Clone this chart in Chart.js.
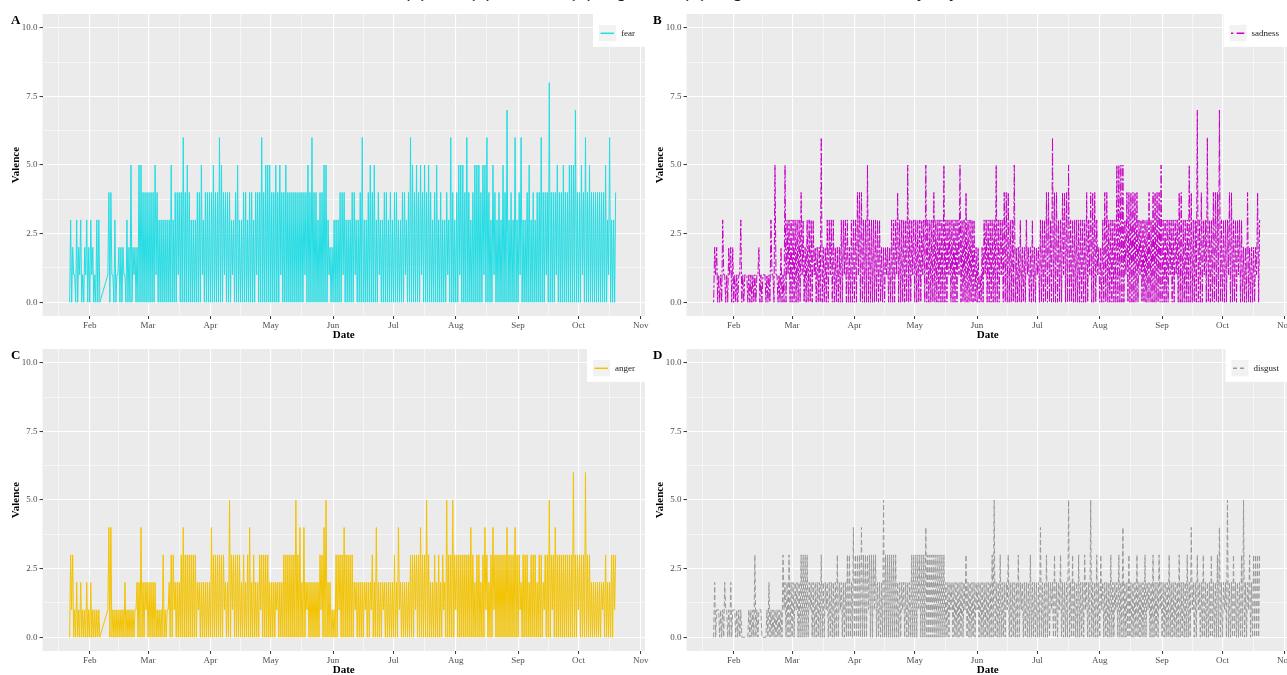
<!DOCTYPE html>
<html>
<head>
<meta charset="utf-8">
<script src="https://cdn.jsdelivr.net/npm/chart.js@4.4.1/dist/chart.umd.min.js"></script>
<style>
    html, body { margin: 0; padding: 0; background: #fff; overflow: hidden; width: 1287px; height: 675px; }
    .panel { position: absolute; }
    .tag { position: absolute; font: bold 13px 'Liberation Serif', serif; line-height: 13px; color: #000; }
    #caption { position: absolute; left: 404px; top: -15.5px; font: 17px 'Liberation Sans', sans-serif; line-height: 16px; white-space: nowrap; color: #222; }
</style>
</head>
<body>
<div id="caption">(A) fear, (B) sadness, (C) anger, and (D) disgust valence over time by day</div>

<canvas id="fearChart" class="panel" width="650" height="345" style="left:0;top:0"></canvas>
<canvas id="sadnessChart" class="panel" width="650" height="345" style="left:644px;top:0"></canvas>
<canvas id="angerChart" class="panel" width="650" height="345" style="left:0;top:335px"></canvas>
<canvas id="disgustChart" class="panel" width="650" height="345" style="left:644px;top:335px"></canvas>

<div class="tag" style="left:11px;top:13px">A</div>
<div class="tag" style="left:653px;top:13px">B</div>
<div class="tag" style="left:11px;top:348px">C</div>
<div class="tag" style="left:653px;top:348px">D</div>

<script>
// Daily valence, 2020. One low and one high reading per day, first day = Jan 22.
const FIRST_DAY = 21; // days after Jan 1

const fearHigh = [
    3,2,1,3,2,3,1,2,3,2,
    3,2,1,3,3,null,null,null,null,4,
    4,1,3,1,2,2,2,1,3,2,
    5,2,2,2,5,5,4,4,4,4,
    4,4,5,4,3,3,3,3,3,3,
    5,3,4,4,4,4,6,4,5,4,
    3,3,3,4,4,5,3,4,4,4,
    4,5,4,4,6,5,4,4,4,4,
    3,3,4,5,3,3,4,4,3,4,
    4,3,4,4,4,6,4,5,5,5,
    4,4,5,4,5,4,4,5,4,4,
    4,4,4,4,4,4,4,4,5,4,
    6,4,4,3,4,4,5,5,3,2,
    2,3,3,3,4,4,4,3,3,3,
    4,4,3,3,4,6,3,3,4,5,
    4,5,3,4,3,3,4,4,3,4,
    3,4,4,3,3,4,4,3,4,6,
    5,4,5,4,5,4,5,4,5,4,
    3,4,5,3,4,3,3,4,3,
    6,4,3,4,5,5,5,4,6,4,
    3,4,5,5,5,4,5,5,6,4,
    3,5,4,3,4,3,5,4,7,3,
    4,3,6,3,4,6,3,3,4,5,
    3,4,3,4,4,6,4,4,4,8,
    4,4,4,5,4,4,5,4,4,5,
    5,5,7,4,4,5,4,6,4,5,
    4,4,4,4,4,4,4,5,3,6,
    3,3,4
];
const fearLow = [
    0,0,1,0,0,1,0,0,1,0,
    0,1,0,0,0,0,null,null,null,1,
    0,1,0,0,1,0,0,1,0,0,
    0,0,1,0,0,0,0,0,0,0,
    0,0,0,1,0,0,0,0,0,0,
    0,0,0,0,1,0,0,0,0,0,
    0,0,0,0,0,0,1,0,0,0,
    0,0,0,0,0,0,0,1,0,0,
    0,1,0,0,0,0,0,0,0,0,
    0,0,0,1,0,0,0,0,0,0,
    0,0,0,0,0,1,0,0,0,0,
    0,0,0,0,0,0,0,1,0,0,
    0,0,0,0,0,0,0,0,0,1,
    0,0,0,0,0,0,1,0,0,0,
    0,0,1,0,0,0,0,0,0,0,
    0,0,0,0,1,0,0,0,0,0,
    0,0,0,0,0,0,0,1,0,0,
    0,0,0,0,0,1,0,0,0,0,
    0,0,0,0,0,0,0,0,1,
    0,0,0,0,0,1,0,0,0,0,
    0,0,0,0,0,0,0,1,0,0,
    0,0,1,0,0,0,0,0,0,0,
    0,0,0,0,0,1,0,0,0,0,
    0,0,0,0,0,0,0,0,1,0,
    0,0,0,1,0,0,0,0,0,0,
    0,0,0,0,0,0,1,0,0,0,
    0,0,0,0,0,0,0,0,0,1,
    0,0,0
];

const sadnessHigh = [
    2,2,1,1,3,1,1,2,2,2,
    1,1,1,3,1,1,1,1,1,1,
    1,1,2,1,1,1,1,1,3,1,
    5,1,1,2,1,5,3,3,3,3,
    3,3,3,4,3,2,3,3,3,3,
    2,2,2,6,2,2,3,3,3,3,
    2,2,2,3,3,3,3,2,3,3,
    3,4,4,4,3,3,5,3,3,3,
    3,3,3,2,2,2,2,2,3,3,
    3,4,3,3,3,3,5,3,3,3,
    3,3,3,3,3,5,3,3,3,4,
    3,3,3,3,5,3,3,3,3,3,
    3,3,5,3,3,4,3,3,3,3,
    2,2,1,2,3,3,3,3,3,3,
    5,3,3,3,4,4,4,3,3,5,
    2,2,3,2,2,3,2,2,3,2,
    2,2,3,3,3,4,4,3,6,4,
    4,3,3,4,4,4,5,3,3,3,
    3,3,3,3,3,4,3,4,4,
    4,3,2,2,3,4,4,3,3,3,
    3,5,5,5,5,3,4,4,4,4,
    4,4,3,3,3,3,3,4,3,4,
    4,4,4,5,3,3,3,3,3,3,
    3,3,4,4,3,3,3,5,4,3,
    3,7,3,4,3,3,6,3,3,4,
    4,4,7,3,3,3,3,4,4,3,
    3,3,3,3,2,2,4,2,2,2,
    2,4,3
];
const sadnessLow = [
    0,1,0,0,0,1,0,0,1,0,
    0,0,0,1,0,0,1,0,0,0,
    0,0,1,0,0,1,0,0,0,1,
    0,1,0,0,0,0,0,1,0,0,
    0,0,0,0,1,0,0,0,0,0,
    1,0,0,0,0,0,0,0,1,0,
    0,0,0,0,0,1,0,0,0,0,
    0,0,1,0,0,0,0,0,0,0,
    0,0,0,0,0,0,1,0,0,0,
    0,1,0,0,0,0,0,0,0,1,
    0,0,0,0,1,0,0,0,0,0,
    0,0,0,0,0,0,0,1,0,0,
    0,0,1,0,0,0,0,0,0,0,
    0,0,0,0,0,1,0,0,0,0,
    0,0,0,1,0,0,0,0,0,0,
    0,0,0,0,0,0,1,0,0,0,
    0,1,0,0,0,0,0,0,0,0,
    0,0,0,0,1,0,0,0,0,0,
    0,0,0,0,0,0,0,1,0,
    0,0,1,0,0,0,0,0,0,0,
    0,0,0,0,0,0,1,0,0,0,
    0,0,0,1,0,0,0,0,0,0,
    0,0,0,0,0,0,0,0,1,0,
    0,1,0,0,0,0,0,0,0,0,
    0,0,0,0,0,1,0,0,0,0,
    0,0,0,0,0,0,0,1,0,0,
    0,0,1,0,0,0,0,0,0,0,
    0,1,0
];

const angerHigh = [
    3,3,1,2,1,2,1,1,2,1,
    2,1,1,1,1,null,null,null,null,4,
    4,1,1,1,1,1,1,2,1,1,
    1,1,1,2,2,4,2,2,2,2,
    2,2,2,1,1,1,3,1,1,2,
    3,3,2,2,2,3,4,3,3,3,
    3,3,3,2,2,2,2,2,2,2,
    4,3,3,3,3,3,3,2,2,5,
    3,3,3,3,3,2,3,2,3,4,
    2,3,2,2,3,3,3,3,3,2,
    2,2,2,2,2,2,3,3,3,3,
    3,3,5,3,4,2,4,2,2,2,
    2,2,2,2,3,3,4,5,2,2,
    1,1,3,3,3,3,4,3,3,3,
    3,2,2,2,2,2,2,2,2,2,
    3,2,4,2,2,2,2,2,2,2,
    2,3,2,4,2,2,2,2,2,3,
    3,3,3,3,4,3,3,5,3,2,
    2,3,2,3,2,3,2,5,3,
    3,5,3,3,3,3,3,3,3,3,
    4,3,2,3,3,2,3,4,3,2,
    3,4,3,3,3,3,3,3,4,3,
    3,3,4,3,3,2,3,3,3,2,
    3,3,3,2,3,3,2,3,3,5,
    3,3,4,3,3,3,3,3,3,3,
    3,6,3,3,3,3,3,6,3,3,
    2,2,2,2,2,2,2,3,2,2,
    3,3,3
];
const angerLow = [
    0,1,0,0,0,0,0,0,0,0,
    0,0,0,0,0,0,null,null,null,1,
    0,0,0,0,0,0,0,0,0,0,
    0,0,0,1,0,0,0,0,1,0,
    0,0,0,0,0,0,0,0,0,1,
    0,0,1,0,0,0,0,0,0,0,
    0,0,0,0,1,0,0,0,0,0,
    0,0,0,0,0,0,0,1,0,0,
    0,1,0,0,0,0,0,0,0,0,
    0,0,0,0,0,1,0,0,0,0,
    0,0,0,1,0,0,0,0,0,0,
    0,0,0,0,0,0,0,0,1,0,
    0,0,0,0,0,1,0,0,0,0,
    0,0,0,0,1,0,0,0,0,0,
    0,0,1,0,0,0,0,1,0,0,
    1,0,0,0,0,0,1,0,0,0,
    0,0,0,0,1,0,0,0,0,0,
    0,0,1,0,0,0,0,0,0,0,
    0,0,0,0,0,0,1,0,0,
    0,0,0,1,0,0,0,0,0,0,
    0,0,0,0,0,0,0,0,1,0,
    0,0,1,0,0,0,0,0,0,0,
    0,0,0,0,0,1,0,0,0,0,
    0,0,0,0,0,0,0,1,0,0,
    0,1,0,0,0,0,0,0,0,0,
    0,0,0,0,1,0,0,0,0,0,
    0,0,0,0,0,0,1,0,0,0,
    0,0,1
];

const disgustHigh = [
    2,1,1,1,1,2,1,1,2,1,
    1,1,1,1,0,0,0,1,1,1,
    3,1,1,1,0,0,1,2,1,1,
    1,1,1,1,3,2,2,3,2,2,
    2,2,2,3,3,3,3,2,2,2,
    2,2,2,3,2,2,2,2,2,2,
    2,3,2,2,2,2,3,3,2,4,
    3,3,3,4,3,3,3,3,3,3,
    3,2,2,2,5,3,3,3,3,3,
    3,2,2,2,2,2,2,2,3,3,
    3,3,3,3,3,4,3,3,3,3,
    3,3,3,3,3,2,2,2,2,2,
    2,2,2,2,2,3,2,2,2,2,
    2,2,2,2,2,2,2,2,3,5,
    2,2,3,2,2,2,3,2,2,2,
    2,3,2,2,2,2,2,3,2,2,
    2,2,4,2,2,3,2,2,2,3,
    2,2,3,2,2,2,5,2,3,2,
    2,3,2,2,3,2,2,5,2,
    2,3,2,3,2,2,2,2,3,2,
    2,2,3,2,4,2,2,3,2,2,
    2,3,2,2,2,3,2,2,2,3,
    2,2,3,2,2,2,2,3,2,2,
    2,2,3,2,2,2,3,2,4,2,
    2,3,2,2,3,2,2,2,3,2,
    2,3,4,2,2,2,5,2,2,3,
    2,2,2,3,5,2,2,3,2,3,
    3,3,3
];
const disgustLow = [
    0,0,1,0,0,0,1,0,0,0,
    1,0,0,0,0,0,0,0,0,0,
    0,0,0,1,0,0,0,0,0,0,
    0,0,0,0,0,1,0,0,0,0,
    0,1,0,0,0,0,0,0,1,0,
    0,0,0,0,0,0,1,0,0,0,
    0,0,0,1,0,0,0,0,0,0,
    0,0,0,0,0,0,0,1,0,0,
    1,0,0,0,0,0,0,0,0,0,
    0,0,0,0,1,0,0,0,0,0,
    0,0,1,0,0,0,0,0,0,0,
    0,0,0,0,0,0,0,0,1,0,
    0,0,0,0,0,1,0,0,0,0,
    0,1,0,0,0,0,0,0,0,0,
    0,0,0,0,0,0,1,0,0,0,
    0,0,0,1,0,0,0,0,0,0,
    0,0,0,0,0,0,0,0,1,0,
    0,0,1,0,0,0,0,0,0,0,
    0,0,0,0,0,1,0,0,0,
    0,0,0,0,1,0,0,0,0,0,
    0,1,0,0,0,0,0,0,0,0,
    0,0,0,0,0,0,0,1,0,0,
    0,0,0,1,0,0,0,0,0,0,
    0,0,0,0,0,0,0,0,0,1,
    0,0,1,0,0,0,0,0,0,0,
    0,0,0,0,0,1,0,0,0,0,
    0,0,0,0,0,0,0,1,0,0,
    0,0,0
];

// Axis ticks
const monthLabels = ['Feb', 'Mar', 'Apr', 'May', 'Jun', 'Jul', 'Aug', 'Sep', 'Oct', 'Nov'];
const valenceTicks = [0, 2.5, 5, 7.5, 10];
const valenceLabels = ['0.0', '2.5', '5.0', '7.5', '10.0'];

const SERIF = "'Liberation Serif', 'DejaVu Serif', serif";
Chart.defaults.font.family = SERIF;

function dayOfYear(month) {
    return (Date.UTC(2020, month, 1) - Date.UTC(2020, 0, 1)) / 864e5;
}

const monthStarts = monthLabels.map((m, i) => dayOfYear(i + 1));
const monthMids = [dayOfYear(0)].concat(monthStarts).slice(0, -1)
    .map((d, i) => (d + monthStarts[i]) / 2);
const xTicks = monthMids.concat(monthStarts).sort((a, b) => a - b);
const yMinor = [1.25, 3.75, 6.25, 8.75];
const yTicks = valenceTicks.concat(yMinor).sort((a, b) => a - b);

const xLabel = {};
monthStarts.forEach((d, i) => { xLabel[d] = monthLabels[i]; });
const yLabel = {};
valenceTicks.forEach((v, i) => { yLabel[v] = valenceLabels[i]; });

function buildPoints(high, low) {
    const pts = [];
    high.forEach((h, i) => {
        const day = FIRST_DAY + i;
        if (low[i] !== null) pts.push({ x: day, y: low[i] });
        if (h !== null) pts.push({ x: day + 0.5, y: h });
    });
    return pts;
}

// grey panel like ggplot
const panelBg = {
    id: 'panelBg',
    beforeDraw(chart) {
        const { ctx, chartArea: a } = chart;
        ctx.save();
        ctx.fillStyle = '#ebebeb';
        ctx.fillRect(a.left, a.top, a.right - a.left, a.bottom - a.top);
        ctx.restore();
    }
};

// boxed legend in the top right corner
const panelLegend = {
    id: 'panelLegend',
    afterDatasetsDraw(chart, args, opts) {
        const { ctx, chartArea: a } = chart;
        ctx.save();
        ctx.font = '9px ' + SERIF;
        const tw = ctx.measureText(opts.text).width;
        const w = 6 + 22 + tw + 10;
        const x0 = a.right - w, y0 = a.top - 0.7;
        ctx.fillStyle = '#ffffff';
        ctx.fillRect(x0, y0, w, 33.5);
        ctx.fillStyle = '#f2f2f2';
        ctx.fillRect(x0 + 6, y0 + 11.5, 17, 16.5);
        ctx.strokeStyle = opts.color;
        ctx.lineWidth = 1.5;
        ctx.setLineDash(opts.keyDash);
        ctx.beginPath();
        ctx.moveTo(x0 + 7.5, y0 + 20);
        ctx.lineTo(x0 + 21, y0 + 20);
        ctx.stroke();
        ctx.setLineDash([]);
        ctx.fillStyle = '#1a1a1a';
        ctx.textBaseline = 'middle';
        ctx.fillText(opts.text, x0 + 28, y0 + 20.5);
        ctx.restore();
    }
};

function isMajorX(v) { return xLabel[v] !== undefined; }
function isMajorY(v) { return yLabel[v] !== undefined; }

function makePanel(canvasId, name, color, dash, keyDash, high, low) {
    const ctx = document.getElementById(canvasId);
    return new Chart(ctx, {
        type: 'line',
        data: {
            datasets: [{
                label: name,
                data: buildPoints(high, low),
                borderColor: color,
                borderWidth: 1,
                borderDash: dash,
                borderJoinStyle: 'bevel',
                pointRadius: 0,
                tension: 0,
                fill: false
            }]
        },
        options: {
            responsive: false,
            animation: false,
            parsing: false,
            normalized: true,
            layout: { padding: { top: 14, right: 5, bottom: 0, left: 0 } },
            plugins: {
                legend: { display: false },
                tooltip: { enabled: false },
                panelLegend: { text: name, color: color, keyDash: keyDash }
            },
            scales: {
                x: {
                    type: 'linear',
                    min: 7.5,
                    max: 307.1,
                    afterBuildTicks: s => { s.ticks = xTicks.map(v => ({ value: v })); },
                    afterFit: s => { s.height = 29; s.paddingLeft = 0; s.paddingRight = 0; },
                    ticks: {
                        autoSkip: false,
                        maxRotation: 0,
                        padding: 1,
                        color: '#4d4d4d',
                        font: { size: 9 },
                        callback: v => xLabel[v] || ''
                    },
                    grid: {
                        color: '#ffffff',
                        lineWidth: c => (c.tick && isMajorX(c.tick.value)) ? 1.1 : 0.55,
                        tickColor: c => (c.tick && isMajorX(c.tick.value)) ? '#333333' : 'rgba(0,0,0,0)',
                        tickWidth: 1,
                        tickLength: 3
                    },
                    border: { display: false },
                    title: {
                        display: true,
                        text: 'Date',
                        color: '#000',
                        font: { size: 11, weight: 'bold' },
                        padding: { top: 0, bottom: 3.4 }
                    }
                },
                y: {
                    type: 'linear',
                    min: -0.5,
                    max: 10.5,
                    afterBuildTicks: s => { s.ticks = yTicks.map(v => ({ value: v })); },
                    afterFit: s => { s.width = 42.5; s.paddingTop = 0; s.paddingBottom = 0; },
                    ticks: {
                        autoSkip: false,
                        padding: 2,
                        color: '#4d4d4d',
                        font: { size: 9 },
                        callback: v => yLabel[v] || ''
                    },
                    grid: {
                        color: '#ffffff',
                        lineWidth: c => (c.tick && isMajorY(c.tick.value)) ? 1.1 : 0.55,
                        tickColor: c => (c.tick && isMajorY(c.tick.value)) ? '#333333' : 'rgba(0,0,0,0)',
                        tickWidth: 1,
                        tickLength: 3
                    },
                    border: { display: false },
                    title: {
                        display: true,
                        text: 'Valence',
                        color: '#000',
                        font: { size: 11, weight: 'bold' },
                        padding: { top: 9.4, bottom: 0 }
                    }
                }
            }
        },
        plugins: [panelBg, panelLegend]
    });
}

makePanel('fearChart', 'fear', '#22dde4', [], [], fearHigh, fearLow);
makePanel('sadnessChart', 'sadness', '#c800c8', [2.5, 2, 8, 2], [2.3, 3.3, 7.7, 3.3], sadnessHigh, sadnessLow);
makePanel('angerChart', 'anger', '#f3c300', [], [], angerHigh, angerLow);
makePanel('disgustChart', 'disgust', '#999999', [5, 2.5], [4, 3], disgustHigh, disgustLow);
</script>
</body>
</html>
